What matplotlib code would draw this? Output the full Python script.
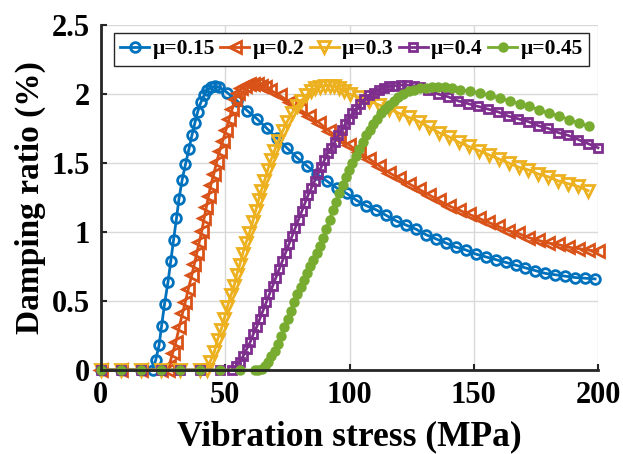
import matplotlib
matplotlib.use("Agg")
import matplotlib.pyplot as plt

# values
x_015 = [0, 8, 16, 20.8, 22.0, 23.4, 24.4, 25.6, 27.0, 28.1, 29.2, 30.4, 31.4, 32.7, 34.0,
         35.4, 36.6, 37.8, 38.9, 40.2, 41.5, 42.8, 44.3, 46.0, 47.7, 50.8, 54.8, 58.8, 62.8,
         66.8, 70.8, 74.8, 78.8, 82.8, 86.8, 90.8, 94.8, 98.8, 102.8, 106.8, 110.8, 114.8,
         118.8, 122.8, 126.8, 130.8, 134.8, 138.8, 142.8, 146.8, 150.8, 154.8, 158.8, 162.8,
         166.8, 170.8, 174.8, 178.8, 182.8, 186.8, 190.8, 194.8, 198.8]
y_015 = [0, 0, 0, 0, 0.07, 0.18, 0.32, 0.48, 0.64, 0.79, 0.94, 1.10, 1.24, 1.38, 1.49,
         1.60, 1.70, 1.79, 1.87, 1.94, 1.99, 2.03, 2.05, 2.055, 2.05, 2.01, 1.95, 1.88, 1.82,
         1.75, 1.68, 1.61, 1.54, 1.48, 1.42, 1.37, 1.32, 1.28, 1.23, 1.19, 1.16, 1.12,
         1.08, 1.05, 1.02, 0.98, 0.95, 0.92, 0.89, 0.87, 0.84, 0.82, 0.80, 0.78,
         0.76, 0.74, 0.72, 0.70, 0.69, 0.68, 0.67, 0.665, 0.66]

x_02 = [0, 8, 16, 24, 26.8, 27.4, 28.8, 30.1, 31.5, 32.8, 33.9, 35.2, 36.6, 37.6, 38.6,
        39.6, 40.6, 41.5, 42.4, 43.3, 44.2, 45.4, 46.6, 47.8, 49.0, 50.3, 51.6, 52.8, 54.0,
        55.2, 56.5, 58.0, 59.6, 61.2, 62.8, 64.5, 66.2, 67.9, 71.9, 75.9, 79.9, 83.9, 87.9,
        91.9, 95.9, 99.9, 103.9, 107.9, 111.9, 115.9, 119.9, 123.9, 127.9, 131.9, 135.9,
        139.9, 143.9, 147.9, 151.9, 155.9, 159.9, 163.9, 167.9, 171.9, 175.9, 179.9, 183.9,
        187.9, 191.9, 195.9, 199.9]
y_02 = [0, 0, 0, 0, 0, 0.03, 0.12, 0.20, 0.31, 0.41, 0.49, 0.59, 0.69, 0.77, 0.85,
        0.93, 1.01, 1.10, 1.18, 1.26, 1.34, 1.42, 1.51, 1.59, 1.66, 1.74, 1.82, 1.89, 1.96,
        2.01, 2.04, 2.06, 2.07, 2.07, 2.07, 2.06, 2.05, 2.03, 1.99, 1.94, 1.89, 1.84, 1.79,
        1.73, 1.68, 1.63, 1.58, 1.53, 1.48, 1.43, 1.39, 1.35, 1.31, 1.27, 1.23,
        1.19, 1.16, 1.13, 1.10, 1.07, 1.04, 1.01, 0.99, 0.96, 0.94, 0.92, 0.91,
        0.89, 0.88, 0.87, 0.86]

x_03 = [0, 8, 16, 24, 32, 40, 42.5, 43.9, 45.6, 46.9, 48.3, 49.6, 50.9, 52.3, 53.6, 54.6,
        55.8, 57.0, 58.3, 59.7, 61.0, 62.2, 63.4, 64.5, 65.8, 67.1, 68.4, 69.8, 71.4, 73.1,
        74.9, 76.8, 78.7, 80.6, 82.5, 84.4, 86.3, 88.2, 90.1, 92.0, 93.9, 95.8, 97.9, 100.0,
        104, 108, 112, 116, 120, 124, 128, 132, 136, 140, 144, 148, 152, 156, 160, 164,
        168, 172, 176, 180, 184, 188, 192, 196]
y_03 = [0, 0, 0, 0, 0, 0, 0, 0.06, 0.13, 0.22, 0.29, 0.37, 0.46, 0.54, 0.61, 0.69,
        0.76, 0.84, 0.92, 0.99, 1.07, 1.15, 1.23, 1.30, 1.37, 1.45, 1.52, 1.59, 1.66, 1.73,
        1.80, 1.86, 1.91, 1.95, 1.99, 2.02, 2.04, 2.05, 2.06, 2.06, 2.055, 2.04, 2.02, 2.00,
        1.975, 1.95, 1.92, 1.89, 1.86, 1.83, 1.80, 1.76, 1.72, 1.69, 1.65, 1.62, 1.59, 1.56,
        1.53, 1.50, 1.47, 1.45, 1.42, 1.40, 1.37, 1.35, 1.33, 1.30]

x_04 = [0, 8, 16, 24, 32, 40, 48, 52.8, 54.3, 55.8, 57.2, 58.6, 60.0, 61.3, 62.6, 63.9,
        65.2, 66.5, 67.8, 69.1, 70.4, 71.7, 73.0, 74.3, 75.6, 76.9, 78.2, 79.5, 80.8, 82.1,
        83.4, 84.7, 86.0, 87.3, 88.6, 89.9, 91.2, 92.6, 94.0, 95.4, 96.8, 98.2, 99.7, 101.2,
        102.7, 104.3, 106.0, 107.8, 109.7, 111.7, 113.8, 116.0, 118.3, 120.7, 123.2, 125.8,
        128.5, 131.5, 135.6, 139.6, 143.7, 147.7, 151.7, 155.8, 159.8, 163.8, 167.9, 171.9,
        175.9, 180.0, 184.0, 188.0, 192.0, 196.0, 200.0]
y_04 = [0, 0, 0, 0, 0, 0, 0, 0, 0.03, 0.06, 0.10, 0.15, 0.20, 0.26, 0.31, 0.37,
        0.43, 0.49, 0.55, 0.61, 0.67, 0.73, 0.79, 0.85, 0.91, 0.97, 1.03, 1.09, 1.15, 1.21,
        1.27, 1.32, 1.37, 1.42, 1.47, 1.52, 1.57, 1.61, 1.65, 1.70, 1.74, 1.78, 1.82, 1.86,
        1.89, 1.93, 1.96, 1.99, 2.01, 2.03, 2.045, 2.055, 2.06, 2.065, 2.065, 2.06,
        2.05, 2.03, 2.00, 1.98, 1.95, 1.93, 1.91, 1.89, 1.87, 1.84, 1.82, 1.80,
        1.77, 1.75, 1.72, 1.70, 1.67, 1.64, 1.61]

x_045 = [0, 8, 16, 24, 32, 40, 48, 56, 61.8, 63.2, 64.6, 66.0, 67.3, 68.6, 69.9, 71.2,
         72.5, 73.8, 75.1, 76.4, 77.7, 79.0, 80.3, 81.6, 82.9, 84.2, 85.5, 86.8, 88.1, 89.4,
         90.7, 92.0, 93.3, 94.6, 95.9, 97.2, 98.5, 99.8, 101.1, 102.5, 103.9, 105.3, 106.7,
         108.1, 109.6, 111.1, 112.7, 114.3, 116.0, 117.8, 119.7, 121.7, 123.8, 126.0, 128.3,
         130.7, 133.2, 135.8, 138.4, 141.2, 144.4, 148.4, 152.4, 156.4, 160.4, 164.4, 168.4,
         172.4, 176.4, 180.4, 184.4, 188.4, 192.4, 196.4]
y_045 = [0, 0, 0, 0, 0, 0, 0, 0, 0, 0, 0.01, 0.03, 0.06, 0.10, 0.14, 0.19,
         0.25, 0.31, 0.37, 0.43, 0.49, 0.55, 0.60, 0.65, 0.70, 0.75, 0.80, 0.85, 0.90, 0.96,
         1.02, 1.09, 1.16, 1.22, 1.28, 1.34, 1.40, 1.45, 1.50, 1.55, 1.60, 1.65, 1.70,
         1.74, 1.78, 1.82, 1.86, 1.89, 1.92, 1.95, 1.98, 2.00, 2.02, 2.03, 2.04,
         2.045, 2.05, 2.05, 2.05, 2.04, 2.03, 2.02, 2.005, 1.99, 1.97, 1.95, 1.93,
         1.91, 1.885, 1.86, 1.84, 1.815, 1.79, 1.765]

labels = ['μ=0.15', 'μ=0.2', 'μ=0.3', 'μ=0.4', 'μ=0.45']
x_ticks = [0, 50, 100, 150, 200]
y_ticks = [0, 0.5, 1, 1.5, 2, 2.5]
y_tick_labels = ['0', '0.5', '1', '1.5', '2', '2.5']

plt.rcParams['font.family'] = ['Liberation Serif', 'DejaVu Serif']
plt.rcParams['font.weight'] = 'bold'
plt.rcParams['axes.labelweight'] = 'bold'

fig = plt.figure(figsize=(6.23, 4.54), dpi=100)
ax = fig.add_axes([0.162, 0.185, 0.798, 0.760])

series = [
    (x_015, y_015, '#0072BD', 'o', 7.0, 'none'),
    (x_02, y_02, '#D95319', '<', 8.0, 'none'),
    (x_03, y_03, '#EDB120', 'v', 8.0, 'none'),
    (x_04, y_04, '#7E2F8E', 's', 6.0, 'none'),
    (x_045, y_045, '#77AC30', 'o', 5.5, None),
]
for (xs, ys, color, marker, ms, mfc), label in zip(series, labels):
    ax.plot(xs, ys, color=color, lw=2.0, marker=marker, ms=ms, mew=2.0,
            mfc=color if mfc is None else mfc, label=label, clip_on=False)

ax.set_xlim(0, 200)
ax.set_ylim(0, 2.5)
ax.set_xticks(x_ticks)
ax.set_yticks(y_ticks)
ax.set_yticklabels(y_tick_labels)
ax.grid(True, color='#d9d9d9', lw=1.0)
ax.set_axisbelow(True)
for side in ['top', 'right']:
    ax.spines[side].set_visible(False)
for side in ['left', 'bottom']:
    ax.spines[side].set_linewidth(2.0)
    ax.spines[side].set_color('#262626')
ax.tick_params(direction='in', length=4, width=1.5, labelsize=22, pad=8, colors='#262626')
for lbl in ax.get_xticklabels() + ax.get_yticklabels():
    lbl.set_color('black')

ax.set_xlabel('Vibration stress (MPa)', fontsize=25.5, labelpad=7)
ax.set_ylabel('Damping ratio (%)', fontsize=24, labelpad=4)

leg = ax.legend(loc='upper center', bbox_to_anchor=(0.504, 0.978), ncol=5,
                fontsize=15.5, handlelength=1.35, handletextpad=0.15, columnspacing=0.25,
                borderpad=0.3, borderaxespad=0, fancybox=False, framealpha=1)
leg.get_frame().set_edgecolor('#262626')
leg.get_frame().set_linewidth(1.0)

fig.savefig('out.png', dpi=100)
